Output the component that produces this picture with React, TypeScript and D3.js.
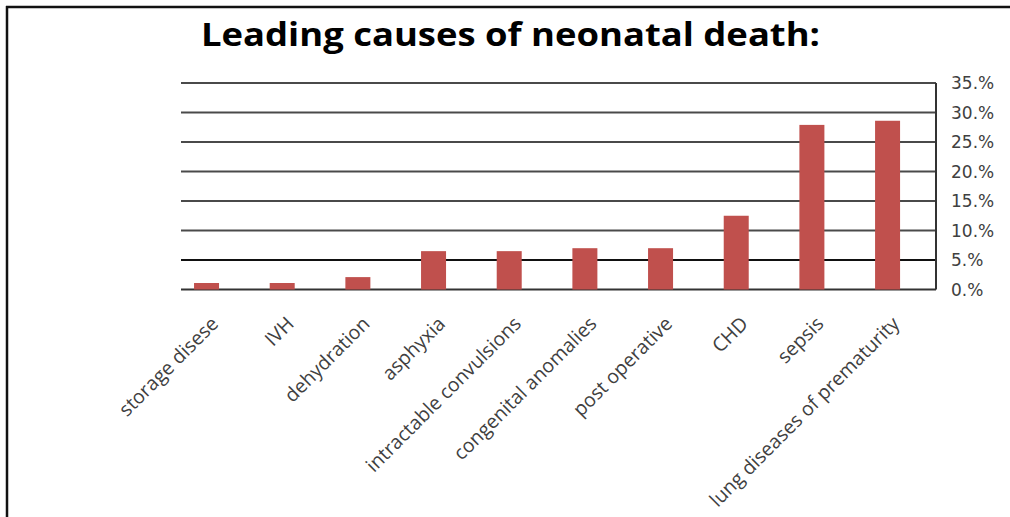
import React from "react";
import * as d3 from "d3";

const categories = [
  "storage disese",
  "IVH",
  "dehydration",
  "asphyxia",
  "intractable convulsions",
  "congenital anomalies",
  "post operative",
  "CHD",
  "sepsis",
  "lung diseases of prematurity",
];
const values = [1.1, 1.1, 2.1, 6.5, 6.5, 7.0, 7.0, 12.5, 27.9, 28.6];
const yTicks = [0, 5, 10, 15, 20, 25, 30, 35];
const title = "Leading causes of neonatal death:";

const W = 1010;
const H = 517;
const plotLeft = 181;
const plotRight = 936;
const plotTop = 83;
const plotBottom = 289.5;

export default function App() {
  const y = d3.scaleLinear().domain([0, 35]).range([plotBottom, plotTop]);
  const x = d3
    .scaleBand<string>()
    .domain(categories)
    .range([168.7, 925.4])
    .paddingInner(0)
    .paddingOuter(0);
  const barW = 25;

  return (
    <svg
      width={W}
      height={H}
      style={{ position: "absolute", left: 0, top: 0, background: "#fff" }}
    >
      <rect x={0} y={0} width={W} height={H} fill="#fff" />
      {/* frame */}
      <line x1={6} y1={7} x2={W} y2={7} stroke="#111" strokeWidth={2.5} />
      <line x1={7} y1={6} x2={7} y2={H} stroke="#111" strokeWidth={2.5} />

      <text
        x={201}
        y={46}
        fontFamily="'Open Sans', sans-serif"
        fontWeight={700}
        fontSize={33}
        fill="#000"
        textLength={619}
        lengthAdjust="spacingAndGlyphs"
      >
        {title}
      </text>

      {/* gridlines */}
      {yTicks.map((t) => (
        <line
          key={"g" + t}
          x1={plotLeft}
          x2={plotRight}
          y1={y(t)}
          y2={y(t)}
          stroke={t === 5 ? "#111" : t === 0 ? "#333" : "#4a4a4a"}
          strokeWidth={2}
        />
      ))}
      {/* right axis line */}
      <line
        x1={plotRight}
        x2={plotRight}
        y1={y(35)}
        y2={y(0)}
        stroke="#333"
        strokeWidth={2}
      />
      {yTicks.map((t) => (
        <text
          key={"t" + t}
          x={951}
          y={y(t)}
          dy="0.36em"
          fontFamily="'DejaVu Sans', sans-serif"
          fontSize={17}
          fill="#404040"
        >
          {t + ".%"}
        </text>
      ))}

      {/* bars */}
      {categories.map((c, i) => {
        const cx = (x(c) as number) + x.bandwidth() / 2;
        return (
          <rect
            key={c}
            x={cx - barW / 2}
            y={y(values[i])}
            width={barW}
            height={y(0) - y(values[i])}
            fill="#C0504D"
          />
        );
      })}

      {/* x labels */}
      {categories.map((c) => {
        const cx = (x(c) as number) + x.bandwidth() / 2;
        const ax = cx + 13;
        const ay = 325;
        return (
          <text
            key={"l" + c}
            x={ax}
            y={ay}
            textAnchor="end"
            transform={`rotate(-45 ${ax} ${ay})`}
            fontFamily="'Open Sans', sans-serif"
            fontSize={19.5}
            fill="#404040"
          >
            {c}
          </text>
        );
      })}
    </svg>
  );
}
